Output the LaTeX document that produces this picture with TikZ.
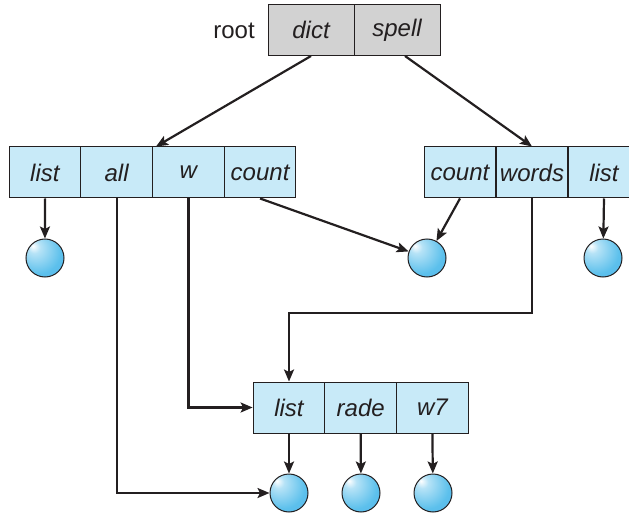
\documentclass[tikz,border=0pt]{standalone}
\usepackage{fontspec}
\setmainfont{Liberation Sans}
\usetikzlibrary{arrows.meta,calc}
\definecolor{cellblue}{RGB}{200,234,248}
\definecolor{cellgray}{RGB}{210,210,210}
\definecolor{ballc}{RGB}{92,192,236}
\definecolor{ink}{RGB}{35,31,32}
\pgfdeclareradialshading{myball}{\pgfpoint{-16bp}{16bp}}{color(0bp)=(white); color(8bp)=(ballc!45!white); color(30bp)=(ballc); color(70bp)=(ballc!85!blue)}
\begin{document}
\begin{tikzpicture}[x=1pt,y=-1pt,
  cell/.style={draw=ink, fill=cellblue, line width=1pt, minimum width=71.75pt, minimum height=51pt, inner sep=0pt, text=ink, font=\fontsize{24}{28}\selectfont\itshape},
  rcell/.style={cell, fill=cellgray, minimum width=86pt},
  ball/.style={circle, draw=ink, line width=1pt, minimum size=38pt, inner sep=0pt, shading=myball},
  arr/.style={draw=ink, line width=2.2pt, -{Stealth[length=12pt,width=10pt,inset=2.5pt]}},
  lbl/.style={font=\fontsize{24}{28}\selectfont, text=ink, inner sep=0pt}]
\useasboundingbox (0,0) rectangle (629,513);
\clip (0,0) rectangle (629,513);
% root
\node[lbl] (root) at (234,31) {root};
\node[rcell] (dict) at (311,30) {dict};
\node[rcell] (spell) at (397,30) {spell};
% left box
\node[cell] (llist) at (44.9,172.5) {list};
\node[cell] (lall) at (116.6,172.5) {all};
\node[cell] (lw) at (188.4,172.5) {w};
\node[cell] (lcount) at (260.1,172.5) {count};
% right box
\node[cell] (rcount) at (460,172.5) {count};
\node[cell] (rwords) at (532,172.5) {words};
\node[cell] (rlist) at (604,172.5) {list};
% bottom box
\node[cell] (blist) at (289,407.5) {list};
\node[cell] (brade) at (360.7,407.5) {rade};
\node[cell] (bw) at (432.4,407.5) {w7};
% balls
\node[ball] (c1) at (45,258) {};
\node[ball] (c2) at (427,258) {};
\node[ball] (c3) at (603,258) {};
\node[ball] (b1) at (289,493) {};
\node[ball] (b2) at (361,493) {};
\node[ball] (b3) at (433,493) {};
% connectors
\coordinate (ltop) at ($(lw.north west)+(4,0)$);
\coordinate (sst) at ($(spell.south)+(8,0)$);
\draw[arr] (dict.south) -- (ltop);
\draw[arr] (sst) -- (rwords.north);
\draw[arr] (llist.south) -- (c1);
\draw[arr] (lall.south) |- (b1);
\draw[arr] (lw.south) |- (blist.west);
\draw[arr] (lcount.south) -- (c2);
\draw[arr] (rcount.south) -- (c2);
\draw[arr] (rwords.south) -- (rwords.south |- 0,313) -| (blist.north);
\draw[arr] (rlist.south) -- (c3);
\draw[arr] (blist.south) -- (b1);
\draw[arr] (brade.south) -- (b2);
\draw[arr] (bw.south) -- (b3);
\end{tikzpicture}
\end{document}
